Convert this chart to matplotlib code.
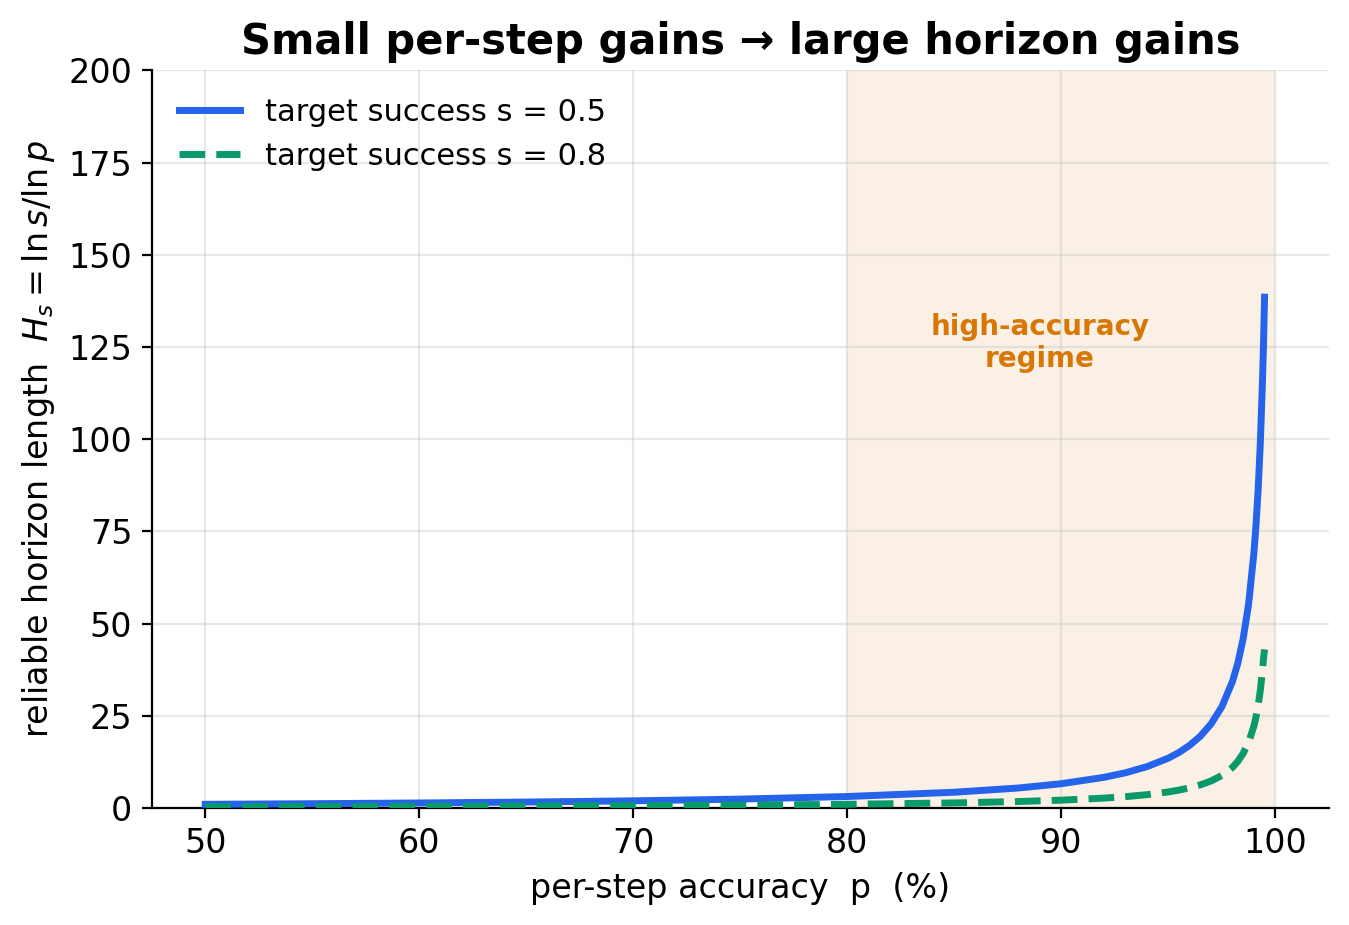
import matplotlib
matplotlib.use("Agg")
import matplotlib.pyplot as plt

# per-step accuracy (%) sample points
p_pct = [50, 55, 60, 65, 70, 75, 80, 85, 88, 90, 92, 93, 94, 95, 95.5, 96, 96.5,
         97, 97.5, 98, 98.25, 98.5, 98.75, 99, 99.1, 99.2, 99.3, 99.4, 99.45, 99.5]
# reliable horizon length, s = 0.5
h_s05 = [1.0, 1.16, 1.36, 1.61, 1.94, 2.41, 3.11, 4.27, 5.42, 6.58, 8.31, 9.55,
         11.2, 13.5, 15.05, 17.0, 19.46, 22.8, 27.4, 34.3, 39.26, 45.9, 55.1,
         69.0, 76.7, 86.3, 98.7, 115.2, 125.7, 138.5]
# reliable horizon length, s = 0.8
h_s08 = [0.32, 0.37, 0.44, 0.52, 0.63, 0.78, 1.0, 1.37, 1.75, 2.12, 2.68, 3.07,
         3.61, 4.35, 4.85, 5.47, 6.26, 7.33, 8.81, 11.0, 12.64, 14.8, 17.7,
         22.2, 24.7, 27.8, 31.8, 37.1, 40.5, 43.0]

labels = ["target success s = 0.5", "target success s = 0.8"]
region = (80, 100)

fig = plt.figure(figsize=(6.745, 4.625), dpi=200)
ax = fig.add_axes([0.1125, 0.1265, 0.8725, 0.7975])

ax.axvspan(region[0], region[1], color="#f6e4d0", alpha=0.55, lw=0, zorder=0)
ax.plot(p_pct, h_s05, color="#2563eb", lw=2.5, label=labels[0], zorder=3,
        solid_joinstyle="round")
ax.plot(p_pct, h_s08, color="#0a9a6a", lw=2.5, ls="--", label=labels[1], zorder=3)

ax.text(89, 126, "high-accuracy\nregime", ha="center", va="center",
        color="#d97706", fontsize=10, fontweight="bold", linespacing=1.2)

ax.set_ylim(0, 200)
ax.set_xticks([50, 60, 70, 80, 90, 100])
ax.set_yticks([0, 25, 50, 75, 100, 125, 150, 175, 200])
ax.grid(True, color="#cccccc", alpha=0.45, lw=0.8)
ax.set_axisbelow(True)
for s in ("top", "right"):
    ax.spines[s].set_visible(False)
ax.tick_params(labelsize=12)

ax.set_xlabel("per-step accuracy  p  (%)", fontsize=12)
ax.set_ylabel(r"reliable horizon length  $H_s = \ln s / \ln p$", fontsize=12)
ax.set_title("Small per-step gains → large horizon gains", fontsize=15, fontweight="bold")
ax.legend(loc="upper left", frameon=False, fontsize=11)

fig.savefig("out.png", dpi=200)
